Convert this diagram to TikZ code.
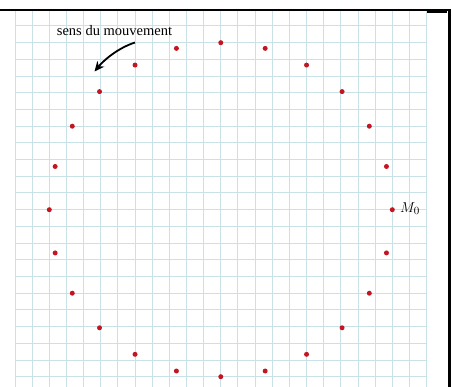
\documentclass[tikz,border=0pt]{standalone}
\usepackage{fontspec}
\setmainfont{Liberation Serif}
\usetikzlibrary{arrows.meta}
\definecolor{gridc}{RGB}{200,226,231}
\definecolor{dotc}{RGB}{196,22,34}
\tikzset{
  gridline/.style={gridc, line width=1pt},
  frameline/.style={black, line width=2pt},
  dotnode/.style={circle, fill=dotc, draw=none, minimum size=5pt, inner sep=0pt},
  lbl/.style={font=\fontsize{14.5}{16}\selectfont, inner sep=0pt}
}
\begin{document}
\begin{tikzpicture}[x=1pt,y=-1pt]
\useasboundingbox (0,0) rectangle (452,387);
\fill[white] (0,0) rectangle (452,387);
% grid
\foreach \k in {0,...,24} {
  \draw[gridline] ({15+17.15*\k},10) -- ({15+17.15*\k},387);
}
\foreach \k in {0,...,21} {
  \draw[gridline] (15,{26+16.7*\k}) -- (426.6,{26+16.7*\k});
}
% frame
\draw[frameline] (0,10) -- (450,10);
\draw[black, line width=3pt] (449,9) -- (449,387);
\draw[black, line width=1.2pt] (427,12) -- (447,12);
% dots
\foreach \i in {0,...,23} {
  \node[dotnode] (p\i) at ({220.8+171.5*cos(15*\i)},{209.7-167*sin(15*\i)}) {};
}
\node[anchor=west, inner sep=0pt, font=\fontsize{15}{17}\selectfont] (m0) at ([xshift=5pt,yshift=1pt]p0.east) {$M_0$};
% label and arrow
\node[lbl] (txt) at (114.5,31) {sens du mouvement};
\coordinate (a0) at (135,42.5);
\coordinate (a1) at (94.5,71.5);
\draw[black, line width=1.8pt, -{Stealth[length=10pt,width=9pt]}] (a0) .. controls (118,48) and (104,60) .. (a1);
\end{tikzpicture}
\end{document}
